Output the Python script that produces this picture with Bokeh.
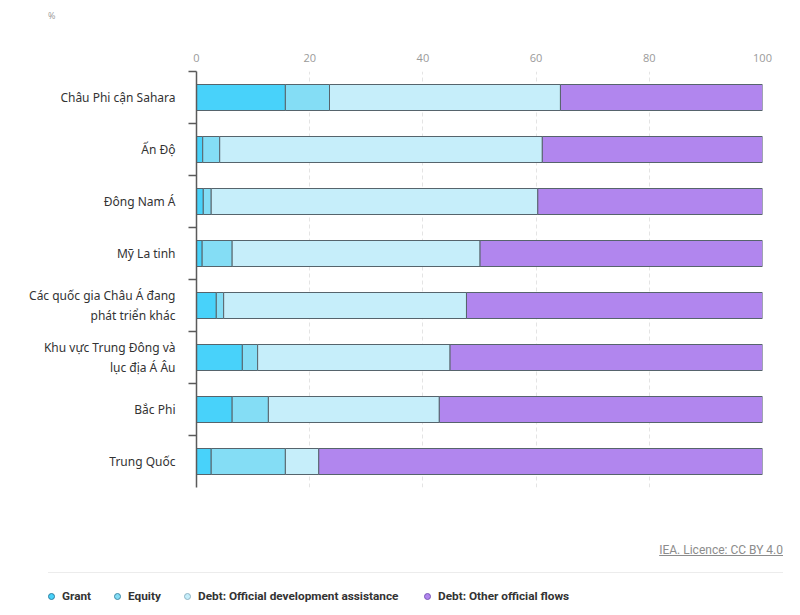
from bokeh.plotting import figure
from bokeh.models import ColumnDataSource, Range1d, FixedTicker, Div
from bokeh.layouts import column
from bokeh.embed import file_html
from bokeh.resources import INLINE

# ---------------- data ----------------
categories = ["Châu Phi cận Sahara", "Ấn Độ", "Đông Nam Á", "Mỹ La tinh",
              "Các quốc gia Châu Á đang\nphát triển khác",
              "Khu vực Trung Đông và\nlục địa Á Âu", "Bắc Phi", "Trung Quốc"]
grant = [15.7, 1.1, 1.2, 1.0, 3.5, 8.1, 6.3, 2.6]
equity = [7.8, 3.0, 1.4, 5.3, 1.3, 2.7, 6.4, 13.1]
oda = [40.8, 57.0, 57.7, 43.8, 42.9, 34.0, 30.2, 5.9]
other = [35.7, 38.9, 39.7, 49.9, 52.3, 55.2, 57.1, 78.4]
series_keys = ["grant", "equity", "oda", "other"]
series_names = ["Grant", "Equity", "Debt: Official development assistance",
                "Debt: Other official flows"]
colors = ["#48d2fa", "#84ddf5", "#c6eefa", "#b186ee"]
legend_edge = ["#2f7fa0", "#3f8aa8", "#8fb4c4", "#7a58b8"]
x_ticks = [0, 20, 40, 60, 80, 100]
source_note = "IEA. Licence: CC BY 4.0"
unit_label = "%"

n = len(categories)
ypos = [n - i - 0.5 for i in range(n)]

src = ColumnDataSource(dict(y=ypos, grant=grant, equity=equity, oda=oda, other=other))

W = 800

# ---------------- header ----------------
header = Div(text=(f'<div style="position:relative;width:{W}px;height:30px;">'
                   f'<span style="position:absolute;left:48px;top:10px;font-family:\'Open Sans\',sans-serif;'
                   f'font-size:9px;color:#9a9a9a;">{unit_label}</span></div>'),
             width=W, height=30, margin=0)

# ---------------- main chart ----------------
p = figure(width=W, height=470, output_backend="svg", toolbar_location=None,
           x_range=Range1d(0, 100), y_range=Range1d(0, n),
           x_axis_location="above",
           min_border_left=196, min_border_right=38,
           min_border_top=41, min_border_bottom=13, margin=0)
p.outline_line_color = None
p.background_fill_color = "white"
p.border_fill_color = "white"

p.hbar_stack(series_keys, y="y", height=0.5, source=src, color=colors,
             line_color="#56646c", line_width=1)

xa = p.xaxis[0]
xa.ticker = FixedTicker(ticks=x_ticks)
xa.axis_line_color = None
xa.major_tick_line_color = None
xa.minor_tick_line_color = None
xa.major_label_text_color = "#9a9a9a"
xa.major_label_text_font = "Open Sans"
xa.major_label_text_font_size = "11px"
xa.major_label_standoff = 4

ya = p.yaxis[0]
ya.ticker = FixedTicker(ticks=ypos, minor_ticks=[float(i) for i in range(1, n + 1)])
ya.major_label_overrides = {float(yv): c for yv, c in zip(ypos, categories)}
ya.major_tick_line_color = None
ya.major_tick_out = 0
ya.major_tick_in = 0
ya.minor_tick_out = 8
ya.minor_tick_in = 0
ya.minor_tick_line_color = "#5a5a5a"
ya.minor_tick_line_width = 1.5
ya.axis_line_color = "#5a5a5a"
ya.axis_line_width = 1.5
ya.major_label_text_color = "#333333"
ya.major_label_text_font = "Noto Sans"
ya.major_label_text_font_size = "12px"
ya.major_label_standoff = 13

p.xgrid.ticker = FixedTicker(ticks=x_ticks[1:])
p.xgrid.grid_line_color = "#e4e4e4"
p.xgrid.grid_line_dash = "4 3"
p.ygrid.grid_line_color = None

# ---------------- footer ----------------
item_left = [48, 114, 184, 424]
parts = [f'<div style="position:relative;width:{W}px;height:110px;font-family:Roboto,sans-serif;">',
         f'<span style="position:absolute;right:17px;top:42px;font-size:12px;color:#8c8c8c;'
         f'text-decoration:underline;white-space:nowrap;">{source_note}</span>',
         '<div style="position:absolute;left:48px;top:72px;width:735px;height:0;'
         'border-top:1.5px solid #ececec;"></div>']
for name, col, edge, lx in zip(series_names, colors, legend_edge, item_left):
    parts.append(
        f'<span style="position:absolute;left:{lx}px;top:88px;display:flex;align-items:center;'
        f'white-space:nowrap;font-size:11.8px;font-weight:700;color:#333333;">'
        f'<span style="display:inline-block;width:7px;height:7px;border-radius:50%;'
        f'background:{col};border:1.2px solid {edge};margin-right:7px;"></span>{name}</span>')
parts.append('</div>')
footer = Div(text="".join(parts), width=W, height=110, margin=0)

layout = column(header, p, footer, spacing=0)
open("out.html", "w").write(file_html(layout, INLINE))
